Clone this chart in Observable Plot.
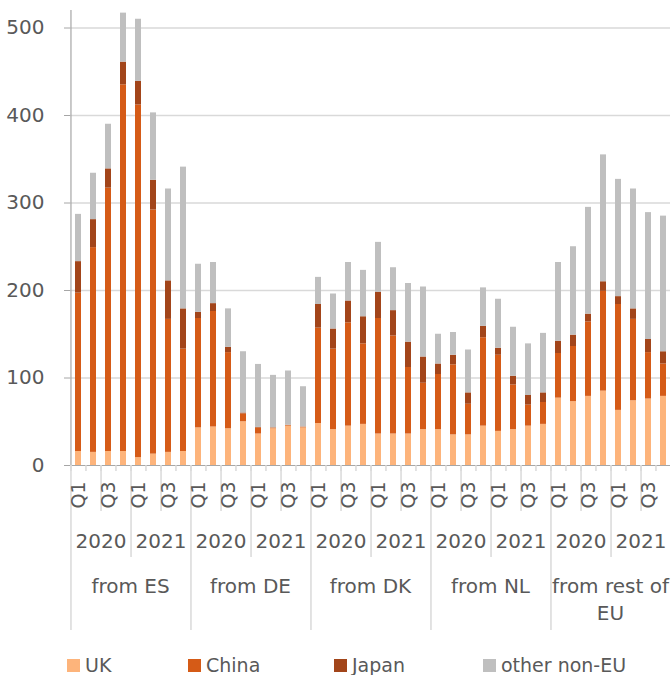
<!DOCTYPE html>
<html>
<head>
<meta charset="utf-8">
<script src="https://cdn.jsdelivr.net/npm/d3@7"></script>
<script src="https://cdn.jsdelivr.net/npm/@observablehq/plot@0.6"></script>
<style>
  html, body { margin: 0; padding: 0; background: #fff; }
  #wrap { position: relative; width: 671px; height: 675px; font-family: "DejaVu Sans", sans-serif; color: #595959; }
  #legend { position: absolute; left: 0; top: 654px; width: 671px; height: 22px; }
  .item { position: absolute; top: 0; height: 22px; display: flex; align-items: center; font-size: 19px; white-space: nowrap; }
  .sw { width: 13px; height: 13px; margin-right: 5px; }
</style>
</head>
<body>
<div id="wrap"><div id="chart"></div><div id="legend"></div></div>
<script>
// ---- data ----
const groups = ["from ES", "from DE", "from DK", "from NL", "from rest of EU"];
const groupLabels = ["from ES", "from DE", "from DK", "from NL", "from rest of\nEU"];
const periods = ["2020 Q1", "2020 Q2", "2020 Q3", "2020 Q4", "2021 Q1", "2021 Q2", "2021 Q3", "2021 Q4"];
const years = ["2020", "2021"];
const series = ["UK", "China", "Japan", "other non-EU"];
const colors = ["#fdb47b", "#d55b17", "#a2451a", "#bfbfbf"];
const yTicks = [0, 100, 200, 300, 400, 500];

const ukValues = [
  [16, 15, 16, 16, 9, 13, 15, 16],
  [43, 44, 42, 50, 36, 42, 45, 43],
  [48, 41, 45, 47, 36, 36, 36, 41],
  [41, 35, 35, 45, 39, 41, 45, 47],
  [77, 73, 79, 85, 63, 74, 76, 79]
];
const chinaValues = [
  [181, 234, 301, 419, 403, 279, 152, 117],
  [125, 132, 87, 9, 7, 1, 1, 1],
  [109, 92, 118, 92, 132, 112, 76, 53],
  [63, 80, 35, 101, 87, 51, 24, 25],
  [51, 63, 85, 114, 121, 93, 53, 37]
];
const japanValues = [
  [36, 32, 22, 26, 27, 34, 44, 46],
  [7, 9, 6, 1, 0.5, 0, 0, 0],
  [27, 23, 25, 31, 30, 29, 29, 30],
  [12, 11, 13, 13, 8, 10, 11, 11],
  [14, 13, 9, 11, 9, 12, 15, 14]
];
const otherValues = [
  [54, 53, 51, 56, 71, 77, 105, 162],
  [55, 47, 44, 70, 72, 60, 62, 46],
  [31, 40, 44, 53, 57, 49, 67, 80],
  [34, 26, 49, 44, 56, 56, 59, 68],
  [90, 101, 122, 145, 134, 137, 145, 155]
];

// ---- build table ----
const seriesValues = [ukValues, chinaValues, japanValues, otherValues];
const data = [];
groups.forEach((g, gi) => periods.forEach((p, pi) => series.forEach((s, si) => {
  data.push({group: g, period: p, series: s, value: seriesValues[si][gi][pi]});
})));

// ---- layout ----
const W = 671, H = 645, ML = 68, MR = 0, MT = 10, AXIS_Y = 465;
const MB = H - AXIS_Y;
const YMAX = 520;
const facetW = (W - ML - MR) / groups.length;
const step = facetW / periods.length;
const pxPerUnit = (AXIS_Y - MT) / YMAX;
const below = px => -px / pxPerUnit; // pixels below the axis, in data units

const lineColor = "#d9d9d9";
const axisColor = "#a6a6a6";

const gRows = groups.map((g, i) => ({g, label: groupLabels[i]}));
const boundaryTicks = groups.flatMap(g => periods.map(p => ({g, p})));
const pairTicks = groups.flatMap(g => [periods[1], periods[5]].map(p => ({g, p})));
const yearSep = groups.map(g => ({g, p: periods[3]}));
const groupSep = groups.map(g => ({g, p: periods[0]}));
const yearText = groups.flatMap(g => years.map((y, i) => ({g, p: periods[i * 4 + 1], y})));

const chart = Plot.plot({
  width: W, height: H,
  marginLeft: ML, marginRight: MR, marginTop: MT, marginBottom: MB,
  style: {fontFamily: "DejaVu Sans, sans-serif", fontSize: "19px", color: "#595959", background: "white"},
  fx: {domain: groups, padding: 0, axis: null, label: null},
  x: {domain: periods, paddingInner: 0.6, paddingOuter: 0.3, axis: null, label: null},
  y: {domain: [0, YMAX], axis: null, label: null},
  color: {domain: series, range: colors},
  marks: [
    Plot.gridY([100, 200, 300, 400, 500], {stroke: lineColor, strokeOpacity: 1, strokeWidth: 1.5}),
    Plot.barY(data, {fx: "group", x: "period", y: "value", fill: "series"}),
    Plot.ruleY([0], {stroke: axisColor, strokeWidth: 1.2}),
    // y-axis line
    Plot.ruleX([{g: groups[0], p: periods[0]}], {fx: "g", x: "p", dx: -step / 2, y1: 0, y2: YMAX, stroke: axisColor, strokeWidth: 1.2}),
    Plot.axisY({ticks: yTicks, tickSize: 6, tickPadding: 20, stroke: axisColor, fontSize: 20, label: null}),
    // category separators below the axis
    Plot.ruleX(boundaryTicks, {fx: "g", x: "p", dx: -step / 2, y1: 0, y2: below(6), stroke: lineColor, strokeWidth: 1.5}),
    Plot.ruleX(pairTicks, {fx: "g", x: "p", dx: step / 2, y1: 0, y2: below(46), stroke: lineColor, strokeWidth: 1.5}),
    Plot.ruleX(yearSep, {fx: "g", x: "p", dx: step / 2, y1: 0, y2: below(92), stroke: lineColor, strokeWidth: 1.5}),
    Plot.ruleX(groupSep, {fx: "g", x: "p", dx: -step / 2, y1: 0, y2: below(165), stroke: lineColor, strokeWidth: 1.5}),
    // quarter labels
    Plot.axisX({ticks: periods.filter(p => /Q[13]$/.test(p)), tickFormat: p => p.slice(5), tickRotate: -90, tickSize: 0, tickPadding: 16, fontSize: 19, label: null}),
    // year labels
    Plot.text(yearText, {fx: "g", x: "p", dx: step / 2, frameAnchor: "bottom", dy: 76, text: "y", fontSize: 20, lineAnchor: "middle"}),
    // group labels
    Plot.text(gRows, {fx: "g", frameAnchor: "bottom", dy: 108, text: "label", fontSize: 20, lineAnchor: "top", lineHeight: 1.35})
  ]
});
document.getElementById("chart").appendChild(chart);

// ---- legend ----
const legendX = [67, 188, 334, 483];
const legend = document.getElementById("legend");
series.forEach((s, i) => {
  const it = document.createElement("div");
  it.className = "item";
  it.style.left = legendX[i] + "px";
  it.innerHTML = `<div class="sw" style="background:${colors[i]}"></div><span>${s}</span>`;
  legend.appendChild(it);
});
</script>
</body>
</html>
